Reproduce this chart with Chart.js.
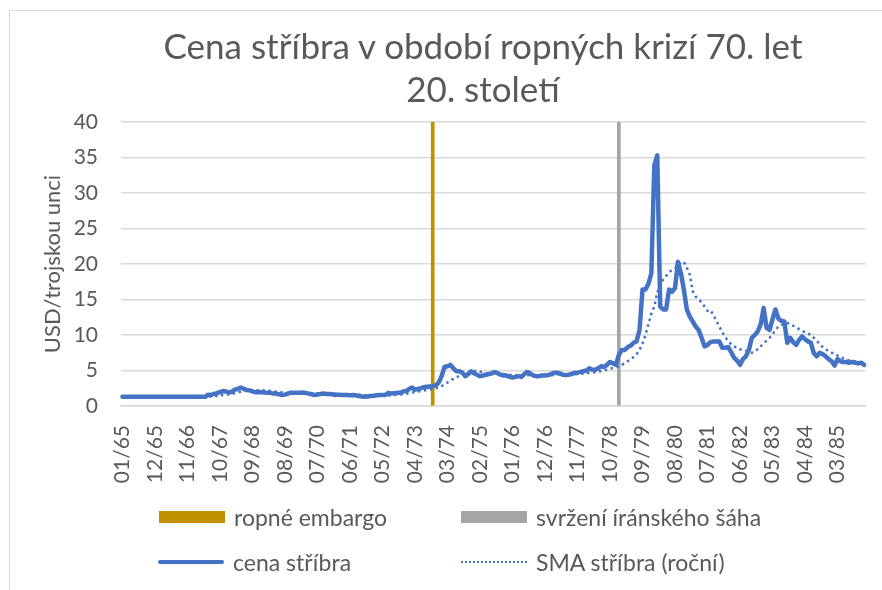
<!DOCTYPE html>
<html lang="cs">
<head>
<meta charset="utf-8">
<script src="https://cdn.jsdelivr.net/npm/chart.js@4"></script>
<style>
    html, body { margin: 0; padding: 0; background: #fff; }
    #wrap { position: relative; width: 882px; height: 590px; overflow: hidden; font-family: Lato, sans-serif; }
    #frame { position: absolute; left: 9px; top: 10px; width: 900px; height: 600px; border: 1px solid #d9d9d9; box-sizing: border-box; }
    #chart { position: absolute; left: 0; top: 0; }
    #title { position: absolute; left: 84px; top: 24px; width: 798px; text-align: center; color: #595959; font-size: 35px; line-height: 43px; }
    .leg { position: absolute; display: flex; align-items: center; color: #595959; font-size: 23px; white-space: nowrap; height: 30px; }
    .sw { display: inline-block; width: 66px; margin-right: 9px; }
</style>
</head>
<body>
<div id="wrap">
    <div id="frame"></div>
    <canvas id="chart" width="882" height="590"></canvas>
    <div id="title">Cena stříbra v období ropných krizí 70. let<br>20. století</div>
    <div id="legend"></div>
</div>
<script>
// monthly silver price, USD per troy ounce, 01/1965 - 12/1985
const startYear = 1965;
const endYear = 1985;

const silverPrice = [
    1.29, 1.29, 1.29, 1.29, 1.29, 1.29, 1.29, 1.29, 1.29, 1.29, 1.29, 1.29, // 1965
    1.29, 1.29, 1.29, 1.29, 1.29, 1.29, 1.29, 1.29, 1.29, 1.29, 1.29, 1.29, // 1966
    1.29, 1.29, 1.29, 1.29, 1.29, 1.6, 1.55, 1.7, 1.8, 1.95, 2.1, 2.05,     // 1967
    1.9, 2.0, 2.3, 2.4, 2.6, 2.45, 2.25, 2.2, 2.05, 1.95, 1.95, 1.95,       // 1968
    1.9, 1.85, 1.85, 1.75, 1.75, 1.65, 1.55, 1.6, 1.75, 1.9, 1.85, 1.85,    // 1969
    1.85, 1.9, 1.85, 1.75, 1.65, 1.55, 1.6, 1.7, 1.75, 1.7, 1.7, 1.65,      // 1970
    1.55, 1.6, 1.55, 1.55, 1.55, 1.5, 1.55, 1.5, 1.4, 1.35, 1.3, 1.35,      // 1971
    1.4, 1.45, 1.5, 1.55, 1.55, 1.55, 1.85, 1.75, 1.8, 1.85, 1.85, 2.05,    // 1972
    2.1, 2.4, 2.6, 2.3, 2.4, 2.5, 2.65, 2.7, 2.75, 2.8, 2.9, 3.3,           // 1973
    4.2, 5.5, 5.6, 5.8, 5.3, 4.9, 4.9, 4.7, 4.2, 4.5, 4.9, 4.6,             // 1974
    4.4, 4.2, 4.3, 4.4, 4.5, 4.6, 4.8, 4.6, 4.4, 4.3, 4.3, 4.1,             // 1975
    4.0, 4.1, 4.2, 4.1, 4.5, 4.8, 4.6, 4.3, 4.2, 4.2, 4.3, 4.3,             // 1976
    4.35, 4.5, 4.65, 4.7, 4.6, 4.4, 4.35, 4.4, 4.5, 4.65, 4.7, 4.8,         // 1977
    4.9, 5.0, 5.3, 5.1, 5.1, 5.3, 5.6, 5.5, 5.8, 6.2, 6.0, 5.8,             // 1978
    7.2, 7.9, 7.9, 8.3, 8.5, 8.9, 9.1, 10.7, 16.4, 16.4, 17.2, 18.7,        // 1979
    33.9, 35.3, 14.0, 13.6, 13.6, 16.4, 16.1, 16.6, 20.3, 18.7, 16.4, 13.6, // 1980
    12.6, 11.9, 11.2, 10.7, 9.6, 8.4, 8.6, 9.0, 9.1, 9.1, 9.1, 8.2,         // 1981
    8.2, 8.3, 7.6, 6.8, 6.4, 5.8, 6.6, 7.0, 7.9, 9.6, 10.0, 10.5,           // 1982
    11.5, 13.8, 11.0, 10.7, 12.2, 13.6, 12.3, 12.0, 11.9, 8.9, 9.6, 9.0,    // 1983
    8.6, 9.3, 9.8, 9.4, 9.1, 8.9, 7.4, 7.0, 7.5, 7.3, 7.0, 6.6,             // 1984
    6.3, 5.7, 6.6, 6.3, 6.2, 6.2, 6.1, 6.2, 6.1, 6.0, 6.1, 5.8              // 1985
];

// yearly simple moving average
const silverSma = [
    null, null, null, null, null, null, null, null, null, null, null, 1.29,   // 1965
    1.29, 1.29, 1.29, 1.29, 1.29, 1.29, 1.29, 1.29, 1.29, 1.29, 1.29, 1.29,   // 1966
    1.29, 1.29, 1.29, 1.29, 1.29, 1.32, 1.34, 1.38, 1.42, 1.48, 1.55, 1.61,   // 1967
    1.66, 1.72, 1.80, 1.89, 2.00, 2.09, 2.15, 2.19, 2.22, 2.22, 2.21, 2.20,   // 1968
    2.20, 2.18, 2.14, 2.09, 2.02, 1.96, 1.90, 1.85, 1.83, 1.82, 1.81, 1.80,   // 1969
    1.80, 1.80, 1.80, 1.80, 1.79, 1.78, 1.78, 1.79, 1.79, 1.77, 1.76, 1.74,   // 1970
    1.72, 1.70, 1.67, 1.66, 1.65, 1.65, 1.64, 1.62, 1.59, 1.56, 1.53, 1.51,   // 1971
    1.50, 1.48, 1.47, 1.47, 1.47, 1.47, 1.49, 1.51, 1.54, 1.58, 1.62, 1.67,   // 1972
    1.73, 1.81, 1.90, 1.96, 2.03, 2.11, 2.18, 2.26, 2.34, 2.42, 2.51, 2.61,   // 1973
    2.79, 3.05, 3.30, 3.59, 3.83, 4.03, 4.22, 4.39, 4.51, 4.65, 4.82, 4.93,   // 1974
    4.95, 4.85, 4.74, 4.61, 4.54, 4.51, 4.50, 4.49, 4.50, 4.48, 4.43, 4.39,   // 1975
    4.36, 4.35, 4.34, 4.32, 4.32, 4.33, 4.31, 4.28, 4.27, 4.26, 4.26, 4.27,   // 1976
    4.30, 4.33, 4.37, 4.42, 4.43, 4.40, 4.38, 4.39, 4.42, 4.46, 4.49, 4.53,   // 1977
    4.57, 4.61, 4.67, 4.70, 4.74, 4.82, 4.92, 5.01, 5.12, 5.25, 5.36, 5.44,   // 1978
    5.6, 5.8, 6.0, 6.3, 6.6, 6.9, 7.3, 7.9, 8.8, 10.0, 11.5, 13.0,           // 1979
    14.0, 16.0, 17.0, 17.8, 18.3, 18.8, 19.2, 19.4, 19.8, 20.2, 20.3, 19.5,   // 1980
    18.5, 16.2, 15.4, 15.0, 14.6, 14.0, 13.4, 13.5, 12.8, 12.0, 11.2, 10.4,   // 1981
    9.7, 9.2, 8.7, 8.4, 8.2, 8.0, 7.9, 7.8, 7.6, 7.5, 7.6, 8.0,               // 1982
    8.4, 8.8, 9.2, 9.6, 10.1, 10.7, 11.2, 11.4, 11.6, 11.7, 11.5, 11.3,       // 1983
    11.1, 10.8, 10.6, 10.4, 10.2, 10.0, 9.6, 9.2, 8.7, 8.3, 8.0, 7.7,         // 1984
    7.5, 7.4, 7.1, 6.9, 6.7, 6.5, 6.4, 6.3, 6.3, 6.2, 6.1, 6.0                // 1985
];

const embargoMonth = "10/73";
const shahMonth = "01/79";
const markerHeight = 40;
const labelEvery = 11;

const seriesNames = ["ropné embargo", "svržení íránského šáha", "cena stříbra", "SMA stříbra (roční)"];
const colors = { embargo: "#bf9000", shah: "#a5a5a5", silver: "#4472c4", text: "#595959", grid: "#d9d9d9" };

const months = [];
for (let y = startYear; y <= endYear; y++) {
    for (let m = 1; m <= 12; m++) {
        months.push(String(m).padStart(2, "0") + "/" + String(y).slice(2));
    }
}

const embargoData = months.map(m => m === embargoMonth ? markerHeight : null);
const shahData = months.map(m => m === shahMonth ? markerHeight : null);

const fontFamily = "Lato, sans-serif";

new Chart(document.getElementById("chart"), {
    data: {
        labels: months,
        datasets: [
            { type: "bar", label: seriesNames[0], data: embargoData, backgroundColor: colors.embargo, barThickness: 3, grouped: false, order: 3 },
            { type: "bar", label: seriesNames[1], data: shahData, backgroundColor: colors.shah, barThickness: 3, grouped: false, order: 3 },
            { type: "line", label: seriesNames[2], data: silverPrice, borderColor: colors.silver, borderWidth: 4.5, pointRadius: 0, tension: 0, borderJoinStyle: "round", borderCapStyle: "round", order: 1 },
            { type: "line", label: seriesNames[3], data: silverSma, borderColor: colors.silver, borderWidth: 2.5, borderDash: [2.5, 3.5], pointRadius: 0, tension: 0, order: 2 }
        ]
    },
    options: {
        responsive: false,
        animation: false,
        layout: { padding: { left: 40, right: 8, top: 122, bottom: 100 } },
        plugins: {
            legend: { display: false },
            tooltip: { enabled: false },
            title: { display: false }
        },
        scales: {
            x: {
                afterFit: scale => { scale.height = 84; },
                grid: { display: true, drawOnChartArea: false, drawTicks: false },
                border: { display: true, color: colors.grid, width: 1.5 },
                ticks: {
                    autoSkip: false,
                    minRotation: 90,
                    maxRotation: 90,
                    padding: 19,
                    color: colors.text,
                    font: { family: fontFamily, size: 21 },
                    callback: function (val, i) {
                        return i % labelEvery === 0 ? this.getLabelForValue(val) : null;
                    }
                }
            },
            y: {
                min: 0,
                max: 40,
                afterFit: scale => { scale.width = 81; },
                grid: { color: colors.grid, lineWidth: 1.5, drawTicks: false },
                border: { display: false },
                ticks: { stepSize: 5, padding: 23, color: colors.text, font: { family: fontFamily, size: 21 } },
                title: { display: true, text: "USD/trojskou unci", color: colors.text, font: { family: fontFamily, size: 22 }, padding: { top: 0, bottom: 0 } }
            }
        }
    }
});

// legend in two columns, like the original
const legendItems = [
    { name: seriesNames[0], swatch: "height:12px;background:" + colors.embargo, left: 159, top: 517 },
    { name: seriesNames[1], swatch: "height:12px;background:" + colors.shah, left: 461, top: 517 },
    { name: seriesNames[2], swatch: "height:0;border-top:4px solid " + colors.silver + ";border-radius:2px", left: 158, top: 562 },
    { name: seriesNames[3], swatch: "height:0;border-top:2.5px dotted " + colors.silver, left: 461, top: 562 }
];
const legendDiv = document.getElementById("legend");
legendItems.forEach(item => {
    const el = document.createElement("div");
    el.className = "leg";
    el.style.left = item.left + "px";
    el.style.top = (item.top - 15) + "px";
    el.innerHTML = `<span class="sw" style="${item.swatch}"></span>${item.name}`;
    legendDiv.appendChild(el);
});
</script>
</body>
</html>
